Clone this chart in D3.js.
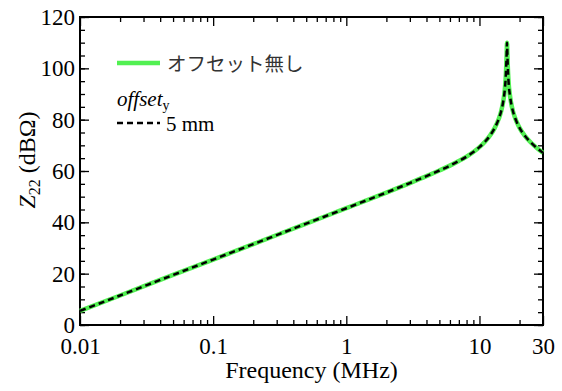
<!DOCTYPE html>
<html>
<head>
<meta charset="utf-8">
<script src="https://cdn.jsdelivr.net/npm/d3@7"></script>
<style>
  body { margin: 0; background: #fff; }
  svg { display: block; }
</style>
</head>
<body>
<svg id="chart" width="562" height="391"></svg>
<script>
// frequency (MHz) and Z22 (dBOhm)
const freq = [0.01, 0.02, 0.05, 0.1, 0.2, 0.5, 1, 2, 3, 4, 5, 6, 7, 8, 9, 10, 11, 12, 13, 14, 14.5, 15, 15.5, 15.8, 15.9, 16.0, 16.1, 16.2, 16.3, 16.5, 17, 17.5, 18, 19, 20, 22, 24, 26, 28, 30];
const noOffset = [5.5, 11.5, 19.5, 25.5, 31.5, 39.5, 45.5, 51.6, 55.3, 58.0, 60.2, 62.1, 63.9, 65.6, 67.4, 69.3, 71.4, 73.8, 76.7, 80.5, 83.0, 86.4, 91.8, 97.9, 101.5, 105.5, 110.0, 105.8, 101.5, 95.6, 88.9, 85.1, 82.6, 79.2, 76.8, 73.6, 71.4, 69.7, 68.3, 67.1];
const offset5mm = [5.5, 11.5, 19.5, 25.5, 31.5, 39.5, 45.5, 51.6, 55.3, 58.0, 60.2, 62.1, 63.9, 65.6, 67.4, 69.3, 71.4, 73.8, 76.7, 80.5, 83.0, 86.4, 91.8, 97.9, 101.5, 105.5, 110.0, 105.8, 101.5, 95.6, 88.9, 85.1, 82.6, 79.2, 76.8, 73.6, 71.4, 69.7, 68.3, 67.1];

const xMajor = [0.01, 0.1, 1, 10, 30];
const xMinor = [0.02, 0.03, 0.04, 0.05, 0.06, 0.07, 0.08, 0.09, 0.2, 0.3, 0.4, 0.5, 0.6, 0.7, 0.8, 0.9, 2, 3, 4, 5, 6, 7, 8, 9, 20];
const yMajor = [0, 20, 40, 60, 80, 100, 120];
const yMinor = d3.range(0, 121, 5);

const SERIF = '"Liberation Serif"';

const margin = {top: 17, right: 19, bottom: 66, left: 80};
const width = 562 - margin.left - margin.right;
const height = 391 - margin.top - margin.bottom;

const svg = d3.select('#chart')
  .append('g')
  .attr('transform', 'translate(' + margin.left + ',' + margin.top + ')');

const x = d3.scaleLog().domain([0.01, 30]).range([0, width]);
const y = d3.scaleLinear().domain([0, 120]).range([height, 0]);

const fmt = d => d >= 1 ? d3.format('d')(d) : String(d);

// axes: ticks all point inward
svg.append('g')
  .attr('transform', 'translate(0,' + height + ')')
  .call(d3.axisBottom(x).tickValues(xMajor).tickFormat(fmt).tickSize(-9).tickPadding(13))
  .call(g => g.select('.domain').remove());
svg.append('g')
  .attr('transform', 'translate(0,' + height + ')')
  .call(d3.axisBottom(x).tickValues(xMinor).tickFormat('').tickSize(-5))
  .call(g => g.select('.domain').remove());
svg.append('g')
  .call(d3.axisTop(x).tickValues(xMajor).tickFormat('').tickSize(-9))
  .call(g => g.select('.domain').remove());
svg.append('g')
  .call(d3.axisTop(x).tickValues(xMinor).tickFormat('').tickSize(-5))
  .call(g => g.select('.domain').remove());

svg.append('g')
  .call(d3.axisLeft(y).tickValues(yMajor).tickSize(-9).tickPadding(5))
  .call(g => g.select('.domain').remove());
svg.append('g')
  .call(d3.axisLeft(y).tickValues(yMinor).tickFormat('').tickSize(-5))
  .call(g => g.select('.domain').remove());
svg.append('g')
  .attr('transform', 'translate(' + width + ',0)')
  .call(d3.axisRight(y).tickValues(yMajor).tickFormat('').tickSize(-9))
  .call(g => g.select('.domain').remove());
svg.append('g')
  .attr('transform', 'translate(' + width + ',0)')
  .call(d3.axisRight(y).tickValues(yMinor).tickFormat('').tickSize(-5))
  .call(g => g.select('.domain').remove());

svg.selectAll('.tick line').attr('stroke', '#000').attr('stroke-width', 1.3);
svg.selectAll('.tick text')
  .style('font-family', SERIF)
  .style('font-size', '23px')
  .style('fill', '#000');

// frame
svg.append('rect')
  .attr('width', width)
  .attr('height', height)
  .attr('fill', 'none')
  .attr('stroke', '#000')
  .attr('stroke-width', 2);

// curves
const line = d3.line()
  .x((d, i) => x(freq[i]))
  .y(d => y(d))
  .curve(d3.curveMonotoneX);

svg.append('path')
  .datum(noOffset)
  .attr('d', line)
  .attr('fill', 'none')
  .attr('stroke', '#52f052')
  .attr('stroke-width', 4.5);

svg.append('path')
  .datum(offset5mm)
  .attr('d', line)
  .attr('fill', 'none')
  .attr('stroke', '#000')
  .attr('stroke-width', 2.5)
  .attr('stroke-dasharray', '6,4');

// legend
const lg = svg.append('g').attr('transform', 'translate(' + (117 - margin.left) + ',' + (63 - margin.top) + ')');
lg.append('line')
  .attr('x1', 0).attr('x2', 43).attr('y1', 0).attr('y2', 0)
  .attr('stroke', '#52f052').attr('stroke-width', 4.5);
lg.append('text')
  .attr('x', 50).attr('y', 8)
  .style('font-family', '"Noto Sans CJK JP"')
  .style('font-size', '19.5px')
  .style('fill', '#333')
  .text('オフセット無し');

const lt = lg.append('text')
  .attr('x', 0).attr('y', 43)
  .style('font-family', SERIF)
  .style('font-size', '21px');
lt.append('tspan').style('font-style', 'italic').text('offset');
lt.append('tspan').attr('dy', 4).style('font-size', '14px').text('y');

lg.append('line')
  .attr('x1', 0).attr('x2', 43).attr('y1', 60).attr('y2', 60)
  .attr('stroke', '#000').attr('stroke-width', 2.5).attr('stroke-dasharray', '6,4');
lg.append('text')
  .attr('x', 49).attr('y', 68)
  .style('font-family', SERIF)
  .style('font-size', '21px')
  .text('5 mm');

// axis titles
svg.append('text')
  .attr('x', width / 2)
  .attr('y', height + 53)
  .attr('text-anchor', 'middle')
  .style('font-family', SERIF)
  .style('font-size', '24px')
  .text('Frequency (MHz)');

const yt = svg.append('text')
  .attr('transform', 'translate(' + (35 - margin.left) + ',' + (160 - margin.top) + ') rotate(-90)')
  .attr('text-anchor', 'middle')
  .style('font-family', SERIF)
  .style('font-size', '24px');
yt.append('tspan').style('font-style', 'italic').text('Z');
yt.append('tspan').attr('dy', 5).style('font-size', '16px').text('22');
yt.append('tspan').attr('dy', -5).text(' (dBΩ)');
</script>
</body>
</html>
